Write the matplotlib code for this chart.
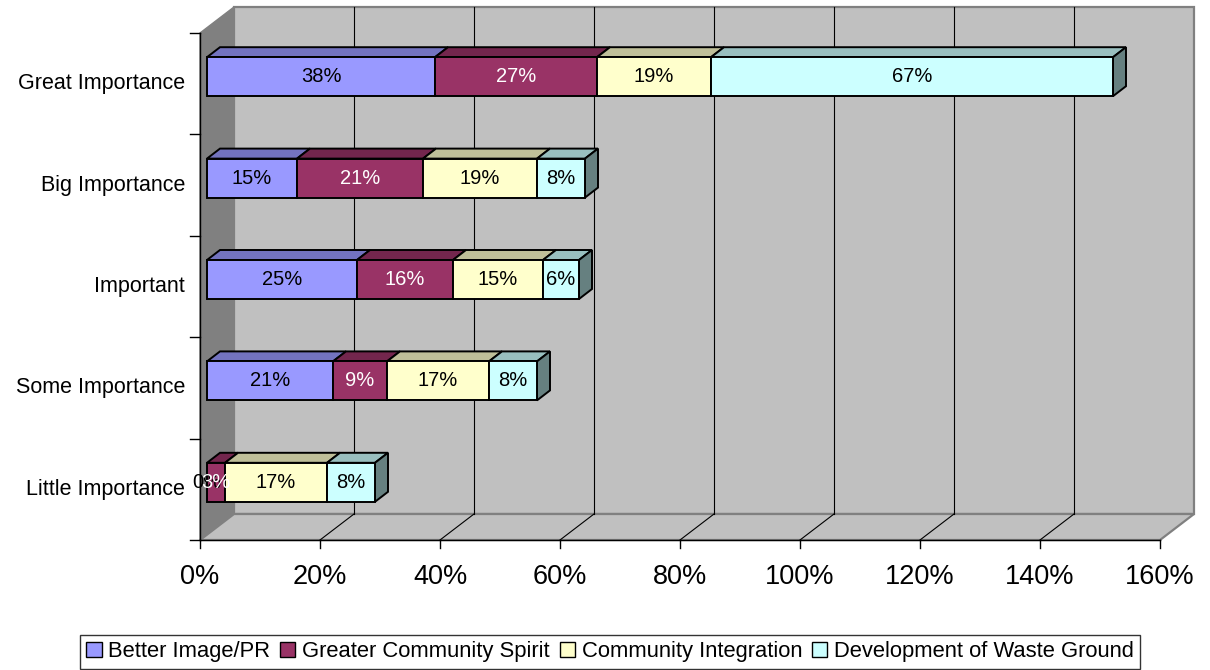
import matplotlib.pyplot as plt
from matplotlib.patches import Polygon, Patch

plt.rcParams['font.family'] = ['Liberation Sans', 'DejaVu Sans']

# data (top to bottom as shown)
categories = ["Great Importance", "Big Importance", "Important",
              "Some Importance", "Little Importance"]
better_image = [38, 15, 25, 21, 0]
community_spirit = [27, 21, 16, 9, 3]
community_integration = [19, 19, 15, 17, 17]
waste_ground = [67, 8, 6, 8, 8]
series_names = ["Better Image/PR", "Greater Community Spirit",
                "Community Integration", "Development of Waste Ground"]
x_ticks = [0, 20, 40, 60, 80, 100, 120, 140, 160]

front_colors = ["#9999FF", "#993366", "#FFFFCC", "#CCFFFF"]
top_colors = ["#7373BF", "#73264D", "#BFBF99", "#99BFBF"]
side_colors = ["#4D4D80", "#4D1A33", "#808066", "#668080"]
label_colors = ["black", "white", "black", "black"]

# pixel scale of the drawing
PX = 6.0     # pixels per percent
PY = 101.4   # pixels per category band
wall_dx, wall_dy = 34 / PX, 26 / PY
bar_off_x, bar_off_y = 7 / PX, 7 / PY
bar_dx, bar_dy = 13 / PX, 10 / PY
bar_h = 39 / PY
xmax = x_ticks[-1]
n = len(categories)

fig = plt.figure(figsize=(12.1, 6.7), dpi=100)
ax = fig.add_axes([200 / 1210, 125 / 670, 1005 / 1210, 542 / 670])
ax.set_xlim(0, 1005 / PX)
ax.set_ylim(-5 / PY, 537 / PY)
ax.axis('off')


def quad(pts, fc, ec="black", lw=1.4, z=1):
    ax.add_patch(Polygon(pts, closed=True, facecolor=fc, edgecolor=ec,
                         linewidth=lw, zorder=z, clip_on=False))


# walls and floor
quad([(wall_dx, wall_dy), (xmax + wall_dx, wall_dy),
      (xmax + wall_dx, n + wall_dy), (wall_dx, n + wall_dy)],
     "#C0C0C0", "#808080", 1.6, 1)
quad([(0, 0), (0, n), (wall_dx, n + wall_dy), (wall_dx, wall_dy)],
     "#808080", "#808080", 1.0, 1)
quad([(0, 0), (xmax, 0), (xmax + wall_dx, wall_dy), (wall_dx, wall_dy)],
     "#C0C0C0", "#808080", 1.6, 1)

for t in x_ticks[1:-1]:
    ax.plot([t + wall_dx, t + wall_dx], [wall_dy, n + wall_dy],
            color="black", lw=0.8, zorder=2)
    ax.plot([t, t + wall_dx], [0, wall_dy], color="black", lw=0.8, zorder=2)

# front axes lines and ticks
ax.plot([0, xmax], [0, 0], color="black", lw=1.0, zorder=3, clip_on=False)
ax.plot([0, 0], [0, n], color="black", lw=1.0, zorder=3, clip_on=False)
for t in x_ticks:
    ax.plot([t, t], [0, -8 / PY], color="black", lw=1.0, clip_on=False)
    ax.text(t, -37 / PY, f"{t}%", ha="center", va="center", fontsize=19.5)
for k in range(n + 1):
    ax.plot([0, -10 / PX], [k, k], color="black", lw=1.0, clip_on=False)

# stacked 3d bars
series = [better_image, community_spirit, community_integration, waste_ground]
for row, cat in enumerate(categories):
    i = n - 1 - row
    y0 = i + 0.5 - bar_h / 2 + bar_off_y
    y1 = y0 + bar_h
    ax.text(-15 / PX, i + 0.5, cat, ha="right", va="center", fontsize=15.5)
    left = bar_off_x
    segs = []
    for s, vals in enumerate(series):
        v = vals[row]
        segs.append((left, left + v, s, v))
        left += v
    drawn = [sg for sg in segs if sg[3] > 0]
    for x0, x1, s, v in drawn:
        quad([(x0, y1), (x1, y1), (x1 + bar_dx, y1 + bar_dy),
              (x0 + bar_dx, y1 + bar_dy)], top_colors[s], z=4)
    x0, x1, s, v = drawn[-1]
    quad([(x1, y0), (x1 + bar_dx, y0 + bar_dy), (x1 + bar_dx, y1 + bar_dy),
          (x1, y1)], side_colors[s], z=4)
    for x0, x1, s, v in drawn:
        quad([(x0, y0), (x1, y0), (x1, y1), (x0, y1)], front_colors[s], z=5)
    for x0, x1, s, v in segs:
        ax.text((x0 + x1) / 2, (y0 + y1) / 2, f"{v}%", ha="center",
                va="center", fontsize=14.5, color=label_colors[s], zorder=6)

handles = [Patch(facecolor=c, edgecolor="black", linewidth=1.0, label=nm)
           for c, nm in zip(front_colors, series_names)]
leg = fig.legend(handles=handles, loc="lower center", ncol=4,
                 bbox_to_anchor=(610 / 1210, 1 / 670), fontsize=15.8,
                 frameon=True, fancybox=False, handlelength=0.7,
                 handleheight=0.7, handletextpad=0.3, columnspacing=0.45,
                 borderpad=0.3, borderaxespad=0.0)
leg.get_frame().set_edgecolor("black")
leg.get_frame().set_linewidth(1.0)

fig.savefig("out.png", dpi=100)
